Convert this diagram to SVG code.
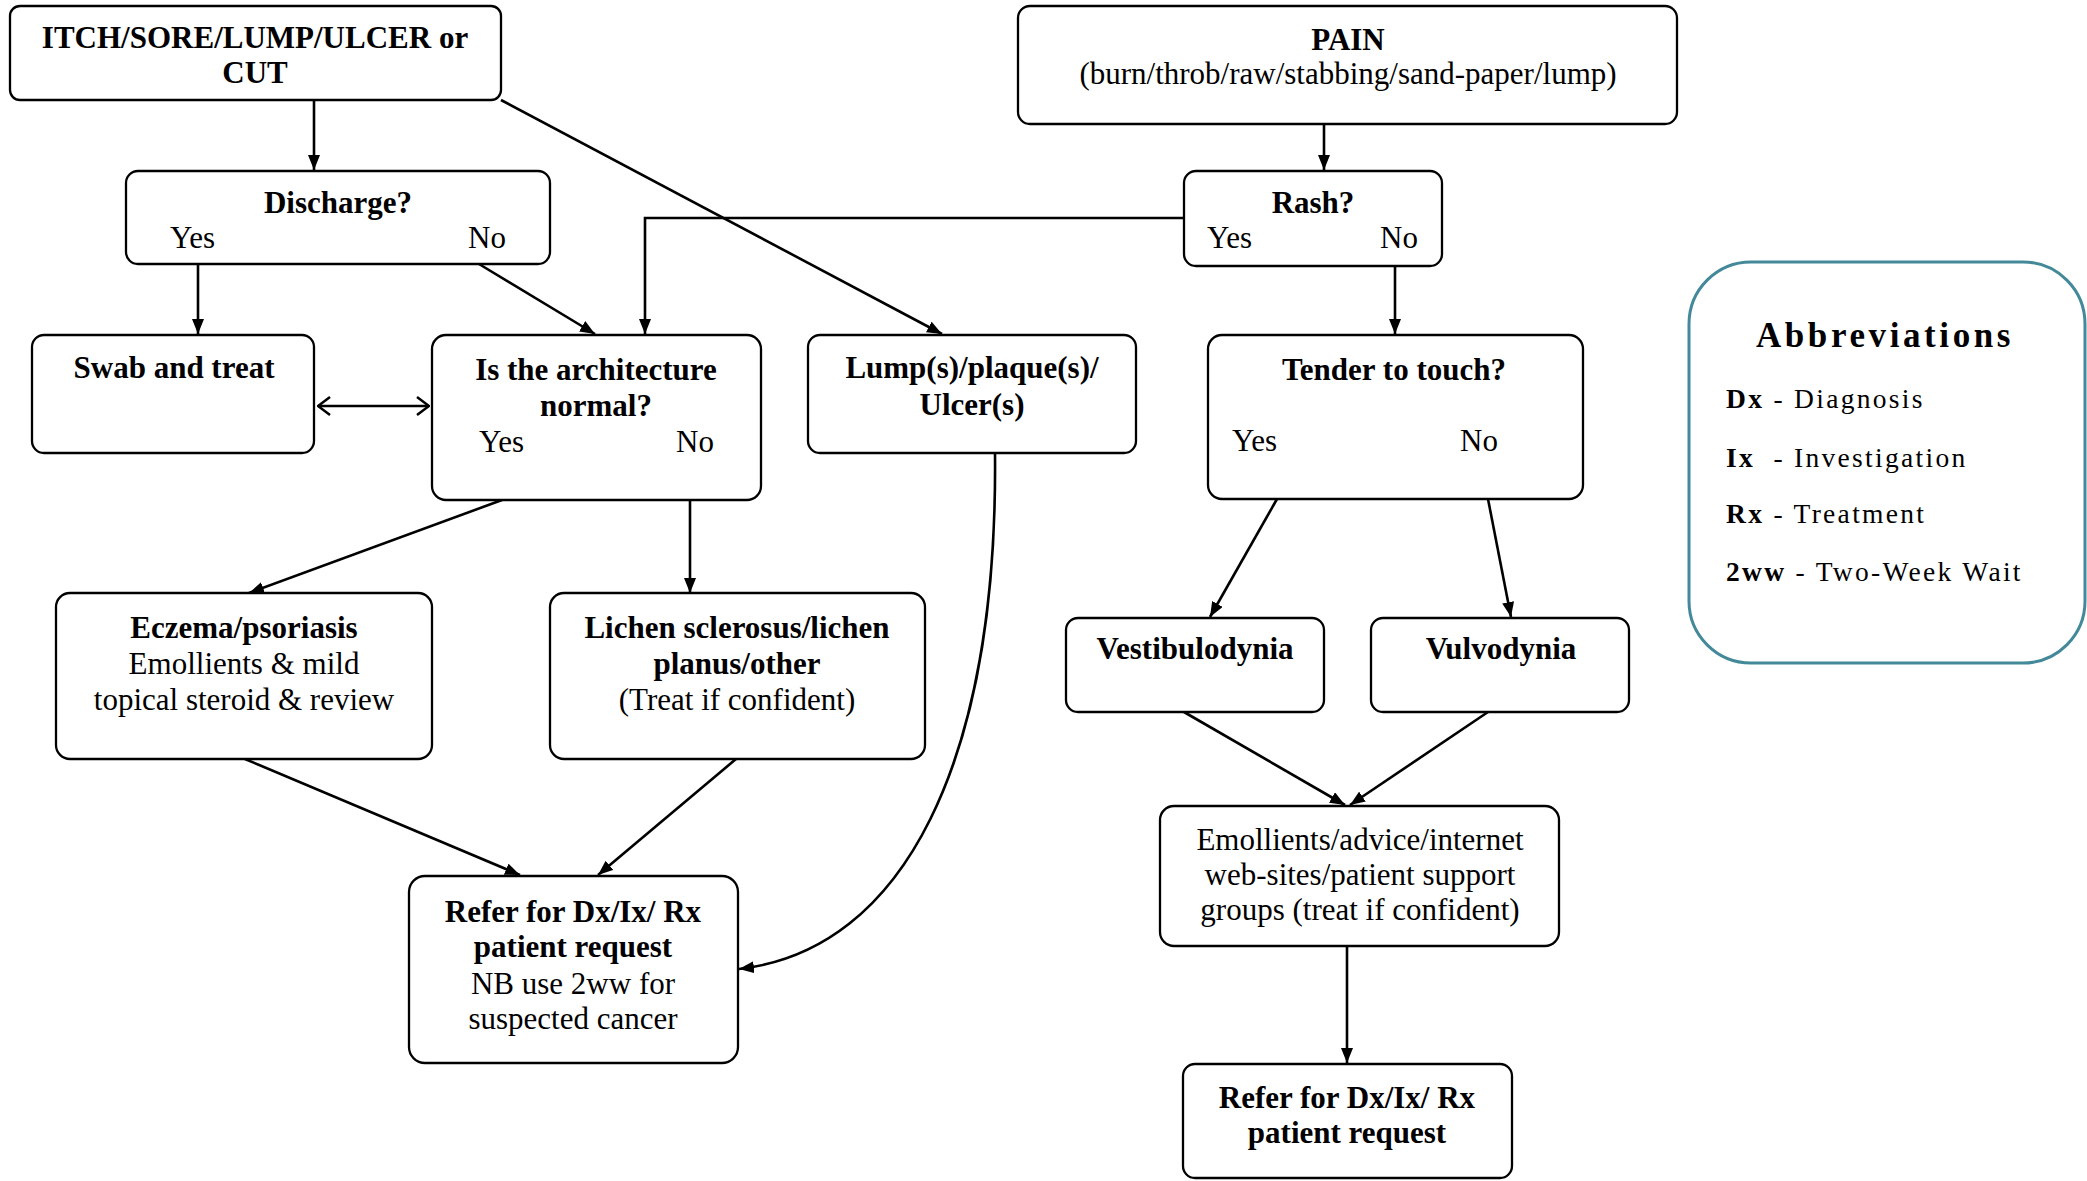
<svg xmlns="http://www.w3.org/2000/svg" width="2087" height="1181" viewBox="0 0 2087 1181">
<style>
.box{fill:#fff;stroke:#000;stroke-width:2.3}
.c{fill:none;stroke:#000;stroke-width:2.6}
text{font-family:"Liberation Serif","Times New Roman",serif;font-size:31px;fill:#000}
.b{font-weight:bold}
.m{text-anchor:middle}
.ab{font-size:27.5px;letter-spacing:2.3px;white-space:pre}
</style>
<defs>
<marker id="ah" viewBox="0 0 15 12" refX="15" refY="6" markerWidth="15" markerHeight="12" markerUnits="userSpaceOnUse" orient="auto"><path d="M0,0 L15,6 L0,12 Z" fill="#000"/></marker>
<marker id="oh" viewBox="0 0 14 20" refX="13" refY="10" markerWidth="14" markerHeight="20" markerUnits="userSpaceOnUse" orient="auto-start-reverse"><path d="M1,1 L13,10 L1,19" fill="none" stroke="#000" stroke-width="2.5"/></marker>
</defs>
<rect width="2087" height="1181" fill="#fff"/>
<g id="connectors">
<path class="c" d="M314,100 V170" marker-end="url(#ah)"/>
<path class="c" d="M501,100 L942,334" marker-end="url(#ah)"/>
<path class="c" d="M1324,124 V170" marker-end="url(#ah)"/>
<path class="c" d="M198,264 V334" marker-end="url(#ah)"/>
<path class="c" d="M479,264 L595,334" marker-end="url(#ah)"/>
<path class="c" d="M1184,218 H645 V334" marker-end="url(#ah)"/>
<path class="c" d="M1395,266 V334" marker-end="url(#ah)"/>
<path class="c" d="M318,406 H429" marker-start="url(#oh)" marker-end="url(#oh)"/>
<path class="c" d="M502,500 L249,593" marker-end="url(#ah)"/>
<path class="c" d="M690,500 V593" marker-end="url(#ah)"/>
<path class="c" d="M245,759 L520,875" marker-end="url(#ah)"/>
<path class="c" d="M736,759 L598,875" marker-end="url(#ah)"/>
<path class="c" d="M995,453 C998,760 905,950 739,969" marker-end="url(#ah)"/>
<path class="c" d="M1277,499 L1210,617" marker-end="url(#ah)"/>
<path class="c" d="M1488,499 L1511,617" marker-end="url(#ah)"/>
<path class="c" d="M1184,712 L1345,805" marker-end="url(#ah)"/>
<path class="c" d="M1488,712 L1350,805" marker-end="url(#ah)"/>
<path class="c" d="M1347,946 V1063" marker-end="url(#ah)"/>
</g>
<g id="itch">
<rect class="box" x="10" y="6" width="491" height="94" rx="10"/>
<text class="b m" x="255" y="48">ITCH/SORE/LUMP/ULCER or</text>
<text class="b m" x="255" y="83">CUT</text>
</g>
<g id="pain">
<rect class="box" x="1018" y="6" width="659" height="118" rx="12"/>
<text class="b m" x="1348" y="50">PAIN</text>
<text class="m" x="1348" y="84">(burn/throb/raw/stabbing/sand-paper/lump)</text>
</g>
<g id="discharge">
<rect class="box" x="126" y="171" width="424" height="93" rx="12"/>
<text class="b m" x="338" y="213">Discharge?</text>
<text x="170" y="248">Yes</text>
<text x="468" y="248">No</text>
</g>
<g id="rash">
<rect class="box" x="1184" y="171" width="258" height="95" rx="12"/>
<text class="b m" x="1313" y="213">Rash?</text>
<text x="1207" y="248">Yes</text>
<text x="1380" y="248">No</text>
</g>
<g id="swab">
<rect class="box" x="32" y="335" width="282" height="118" rx="12"/>
<text class="b m" x="174" y="378">Swab and treat</text>
</g>
<g id="architecture">
<rect class="box" x="432" y="335" width="329" height="165" rx="14"/>
<text class="b m" x="596" y="380">Is the architecture</text>
<text class="b m" x="596" y="416">normal?</text>
<text x="479" y="452">Yes</text>
<text x="676" y="452">No</text>
</g>
<g id="lump">
<rect class="box" x="808" y="335" width="328" height="118" rx="12"/>
<text class="b m" x="972" y="378">Lump(s)/plaque(s)/</text>
<text class="b m" x="972" y="415">Ulcer(s)</text>
</g>
<g id="tender">
<rect class="box" x="1208" y="335" width="375" height="164" rx="14"/>
<text class="b m" x="1394" y="380">Tender to touch?</text>
<text x="1232" y="451">Yes</text>
<text x="1460" y="451">No</text>
</g>
<g id="eczema">
<rect class="box" x="56" y="593" width="376" height="166" rx="14"/>
<text class="b m" x="244" y="638">Eczema/psoriasis</text>
<text class="m" x="244" y="674">Emollients &amp; mild</text>
<text class="m" x="244" y="710">topical steroid &amp; review</text>
</g>
<g id="lichen">
<rect class="box" x="550" y="593" width="375" height="166" rx="14"/>
<text class="b m" x="737" y="638">Lichen sclerosus/lichen</text>
<text class="b m" x="737" y="674">planus/other</text>
<text class="m" x="737" y="710">(Treat if confident)</text>
</g>
<g id="vestibulodynia">
<rect class="box" x="1066" y="618" width="258" height="94" rx="12"/>
<text class="b m" x="1195" y="659">Vestibulodynia</text>
</g>
<g id="vulvodynia">
<rect class="box" x="1371" y="618" width="258" height="94" rx="12"/>
<text class="b m" x="1501" y="659">Vulvodynia</text>
</g>
<g id="refer1">
<rect class="box" x="409" y="876" width="329" height="187" rx="16"/>
<text class="b m" x="573" y="922">Refer for Dx/Ix/ Rx</text>
<text class="b m" x="573" y="957">patient request</text>
<text class="m" x="573" y="994">NB use 2ww for</text>
<text class="m" x="573" y="1029">suspected cancer</text>
</g>
<g id="emollients">
<rect class="box" x="1160" y="806" width="399" height="140" rx="14"/>
<text class="m" x="1360" y="850">Emollients/advice/internet</text>
<text class="m" x="1360" y="885">web-sites/patient support</text>
<text class="m" x="1360" y="920">groups (treat if confident)</text>
</g>
<g id="refer2">
<rect class="box" x="1183" y="1064" width="329" height="114" rx="12"/>
<text class="b m" x="1347" y="1108">Refer for Dx/Ix/ Rx</text>
<text class="b m" x="1347" y="1143">patient request</text>
</g>
<g id="abbreviations">
<rect x="1689" y="262" width="396" height="401" rx="62" fill="#fff" stroke="#43899a" stroke-width="3"/>
<text class="b m" x="1885" y="347" style="font-size:35px;letter-spacing:3.6px">Abbreviations</text>
<text class="ab" x="1726" y="408"><tspan class="b">Dx</tspan> - Diagnosis</text>
<text class="ab" x="1726" y="467" xml:space="preserve"><tspan class="b">Ix</tspan>  - Investigation</text>
<text class="ab" x="1726" y="523"><tspan class="b">Rx</tspan> - Treatment</text>
<text class="ab" x="1726" y="581"><tspan class="b">2ww</tspan> - Two-Week Wait</text>
</g>
</svg>
